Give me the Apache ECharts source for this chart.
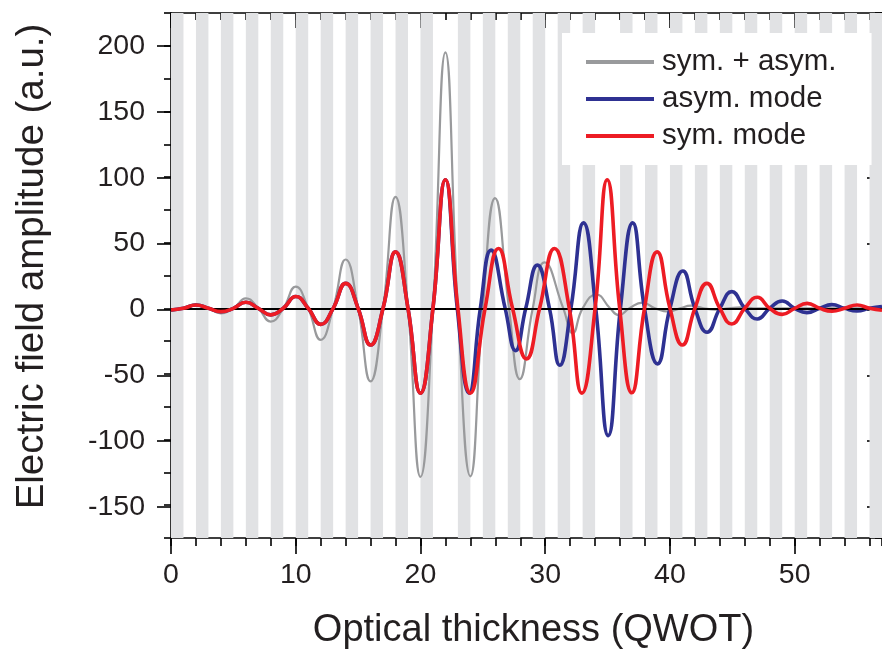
<!DOCTYPE html>
<html>
<head>
<meta charset="utf-8">
<script src="https://cdn.jsdelivr.net/npm/echarts@6/dist/echarts.min.js"></script>
<style>
  html, body { margin: 0; padding: 0; background: #ffffff; }
  #chart { width: 882px; height: 655px; }
</style>
</head>
<body>
<div id="chart"></div>
<script>
// ---- Data ----
const seriesNames = ['sym. + asym.', 'asym. mode', 'sym. mode'];

// high-index layers (grey bands), in QWOT
const greyLayers = [
  [0,1],[2,3],[4,5],[6,7],[8,9],[10,11],[12,13],[14,15],[16,17],[18,19],[20,21],
  [23,24],[25,26],[27,28],[29,30],[31,32],[33,34],
  [36,37],[38,39],[40,41],[42,43],[44,45],[46,47],[48,49],[50,51],[52,53],[54,55],[56,57]
];

// sym. + asym. (grey)
const grayX = [0,1,2,3,4,5,6,7,8,9,10,11,12,13,14,15,16,17,18,19,20,21,22,23,24,
  25.0,25.98,27.1,27.96,29.0,29.94,31.45,32.2,33.0,34.1,35.2,35.9,36.75,37.8,38.8,39.9,40.8,41.7,42.7,43.7,44.7,45.7,47,57];
const grayY = [-2,0,3.3,0,-3.8,0,7.6,0,-10.1,0,16.5,0,-24,0,37.2,0,-55.7,0,84.9,0,-128.4,0,195,0,-128,
  0,84,0,-54,0,35,0,-19,0,10.5,0,-5.2,0,4.3,0,-2.5,0,2,0,-1,0,0.8,0,0];

// asym. mode (blue)
const blueX = [0,1,2,3,4,5,6,7,8,9,10,11,12,13,14,15,16,17,18,19,20,21,22,
  22.95,23.9,24.8,25.66,26.79,27.62,28.44,29.37,30.34,31.17,32.06,33.07,34.05,35.05,36.03,37.01,37.96,39.0,40.0,41.03,42.0,42.98,44.0,44.96,46,47,48,49,50,50.98,52,52.98,54,55,56,57];
const blueY = [-1.3,0,2.5,0,-2.5,0,4.6,0,-5,0,9,0,-12.2,0,19,0,-28,0,43,0,-64.6,0,98,
  0,-64.6,0,44.3,0,-32.2,0,32.9,0,-43.4,0,65.1,0,-97,0,65.1,0,-42.3,0,28.4,0,-18.2,0,12.7,0,-8.1,0,5.6,0,-3.3,0,2.8,0,-2,0,1.4];

// sym. mode (red)
const redX = [0,1,2,3,4,5,6,7,8,9,10,11,12,13,14,15,16,17,18,19,20,21,22,23,24,
  25.18,26.25,27.38,28.5,29.55,30.74,31.93,32.94,34.0,34.97,35.97,36.94,37.96,38.97,40.0,41.0,42.0,42.96,44.0,44.96,46,47,48,49,50,51,52,53,54,55,56,57];
const redY = [-1.3,0,2.5,0,-2.5,0,4.6,0,-5,0,9,0,-12.2,0,19,0,-28,0,43,0,-64.6,0,98,0,-64.6,
  0,45.6,0,-38.5,0,45.6,0,-64.6,0,98,0,-64.3,0,43,0,-28,0,19,0,-12,0,8.4,0,-4.6,0,3.8,0,-2.2,0,2.5,0,-1.5];

// axis ranges / ticks
const xMin = 0, xMax = 57, xMajor = 10, xMinor = 2;
const yMin = -175, yMax = 225, yMinor = 25;
const yLabelMin = -150, yLabelMax = 200, yMajor = 50;
const xTitle = 'Optical thickness (QWOT)';
const yTitle = 'Electric field amplitude (a.u.)';

// ---- Layout ----
const FONT = '"Liberation Sans", Arial, Helvetica, sans-serif';
const TXT = '#231f20';
const gLeft = 171, gTop = 13, gW = 718, gH = 527;
const pxPerY = gH / (yMax - yMin);
const g2Top = gTop + (yMax - yLabelMax) * pxPerY;
const g2H = (yLabelMax - yLabelMin) * pxPerY;

const zip = (xs, ys) => xs.map((x, i) => [x, ys[i]]);
const axisLineStyle = { color: '#000', width: 1.6 };
const colors = ['#999a9c', '#2e3192', '#ed1c24'];

const chart = echarts.init(document.getElementById('chart'), null, { renderer: 'canvas' });
const option = {
  animation: false,
  backgroundColor: '#ffffff',
  textStyle: { fontFamily: FONT },
  grid: [
    { left: gLeft, top: gTop, width: gW, height: gH, containLabel: false },
    { left: gLeft, top: g2Top, width: gW, height: g2H, containLabel: false }
  ],
  legend: {
    data: [
      { name: seriesNames[0], icon: 'rect', itemStyle: { color: colors[0] } },
      { name: seriesNames[1], icon: 'rect', itemStyle: { color: colors[1] } },
      { name: seriesNames[2], icon: 'rect', itemStyle: { color: colors[2] } }
    ],
    orient: 'vertical',
    left: 562, top: 33,
    padding: [14, 35, 14, 24],
    itemGap: 7,
    itemWidth: 68, itemHeight: 4,
    backgroundColor: '#ffffff',
    textStyle: { fontSize: 29.5, color: TXT, fontFamily: FONT, padding: [0, 0, 0, 3] },
    z: 20
  },
  xAxis: [
    { gridIndex: 0, type: 'value', position: 'bottom', min: xMin, max: xMax, interval: xMajor,
      axisLine: { show: true, onZero: false, lineStyle: axisLineStyle },
      axisTick: { show: true, inside: false, length: 16, lineStyle: axisLineStyle },
      axisLabel: { show: true, fontSize: 28.5, color: TXT, fontFamily: FONT, margin: 23,
        formatter: v => (v % xMajor === 0 ? String(v) : '') , showMaxLabel: false },
      splitLine: { show: false },
      name: xTitle, nameLocation: 'middle', nameGap: 74,
      nameTextStyle: { fontSize: 38, color: TXT, fontFamily: FONT, padding: [0, 0, 0, 14] } },
    { gridIndex: 0, type: 'value', position: 'bottom', min: xMin, max: xMax, interval: xMinor,
      axisLine: { show: false, onZero: false },
      axisTick: { show: true, inside: false, length: 8, lineStyle: axisLineStyle },
      axisLabel: { show: false }, splitLine: { show: false } },
    { gridIndex: 0, type: 'value', position: 'top', min: xMin, max: xMax, interval: xMajor,
      axisLine: { show: true, onZero: false, lineStyle: axisLineStyle },
      axisTick: { show: true, inside: true, length: 15, lineStyle: axisLineStyle },
      axisLabel: { show: false }, splitLine: { show: false } },
    { gridIndex: 0, type: 'value', position: 'top', min: xMin, max: xMax, interval: xMinor,
      axisLine: { show: false, onZero: false },
      axisTick: { show: true, inside: true, length: 7, lineStyle: axisLineStyle },
      axisLabel: { show: false }, splitLine: { show: false } },
    { gridIndex: 1, type: 'value', show: false, min: xMin, max: xMax }
  ],
  yAxis: [
    { gridIndex: 0, type: 'value', position: 'left', min: yMin, max: yMax, interval: yMinor,
      axisLine: { show: true, onZero: false, lineStyle: axisLineStyle },
      axisTick: { show: true, inside: false, length: 7, lineStyle: axisLineStyle },
      axisLabel: { show: false }, splitLine: { show: false },
      name: yTitle, nameLocation: 'middle', nameGap: 119, nameRotate: 90,
      nameTextStyle: { fontSize: 38.5, color: TXT, fontFamily: FONT, padding: [0, 0, 0, 18] } },
    { gridIndex: 0, type: 'value', position: 'right', min: yMin, max: yMax, interval: yMinor,
      axisLine: { show: true, onZero: false, lineStyle: axisLineStyle },
      axisTick: { show: true, inside: true, length: 7, lineStyle: axisLineStyle },
      axisLabel: { show: false }, splitLine: { show: false } },
    { gridIndex: 1, type: 'value', position: 'left', min: yLabelMin, max: yLabelMax, interval: yMajor,
      axisLine: { show: false, onZero: false },
      axisTick: { show: true, inside: false, length: 14, lineStyle: axisLineStyle },
      axisLabel: { show: true, fontSize: 28.5, color: TXT, fontFamily: FONT, margin: 26 },
      splitLine: { show: false } },
    { gridIndex: 1, type: 'value', position: 'right', min: yLabelMin, max: yLabelMax, interval: yMajor,
      axisLine: { show: false, onZero: false },
      axisTick: { show: true, inside: true, length: 15, lineStyle: axisLineStyle },
      axisLabel: { show: false }, splitLine: { show: false } }
  ],
  series: [
    { name: 'layers', type: 'line', xAxisIndex: 0, yAxisIndex: 0, data: [], z: 1, silent: true,
      markArea: { silent: true, itemStyle: { color: '#e1e2e4' },
        data: greyLayers.map(l => [{ xAxis: l[0] }, { xAxis: l[1] }]) } },
    { name: 'zero', type: 'line', xAxisIndex: 0, yAxisIndex: 0, data: [], z: 2, silent: true,
      markLine: { silent: true, symbol: 'none', label: { show: false },
        lineStyle: { color: '#000', width: 2, type: 'solid' }, data: [{ yAxis: 0 }] } },
    { name: seriesNames[0], type: 'line', xAxisIndex: 0, yAxisIndex: 0, data: zip(grayX, grayY),
      smooth: 0.5, symbol: 'none', z: 3, lineStyle: { color: colors[0], width: 2.2 }, itemStyle: { color: colors[0] } },
    { name: seriesNames[1], type: 'line', xAxisIndex: 0, yAxisIndex: 0, data: zip(blueX, blueY),
      smooth: 0.5, symbol: 'none', z: 4, lineStyle: { color: colors[1], width: 3.6 }, itemStyle: { color: colors[1] } },
    { name: seriesNames[2], type: 'line', xAxisIndex: 0, yAxisIndex: 0, data: zip(redX, redY),
      smooth: 0.5, symbol: 'none', z: 5, lineStyle: { color: colors[2], width: 3.6 }, itemStyle: { color: colors[2] } }
  ]
};
chart.setOption(option);
</script>
</body>
</html>
